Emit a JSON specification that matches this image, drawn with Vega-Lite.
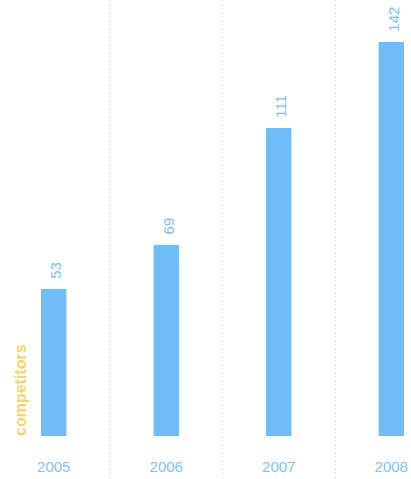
{
  "$schema": "https://vega.github.io/schema/vega-lite/v6.json",
  "width": 411,
  "height": 479,
  "autosize": {"type": "none"},
  "padding": 0,
  "background": "#ffffff",
  "config": {"view": {"stroke": null}, "font": "Liberation Sans"},
  "data": {"values": [
    {"year": "2005", "value": 53},
    {"year": "2006", "value": 69},
    {"year": "2007", "value": 111},
    {"year": "2008", "value": 142}
  ]},
  "encoding": {
    "x": {"field": "year", "type": "nominal",
      "scale": {"range": [-2.5, 447.5], "paddingInner": 0, "paddingOuter": 0},
      "axis": {"title": null, "orient": "bottom", "offset": -43, "domain": false, "ticks": false,
        "labelAngle": 0, "labelPadding": 23, "labelFontSize": 15, "labelColor": "#82c4f0",
        "grid": false}}
  },
  "layer": [
    {"mark": {"type": "rule", "color": "#d4ecef", "strokeDash": [2, 2], "strokeWidth": 1.5},
     "encoding": {"x": {"field": "year", "type": "nominal", "bandPosition": 0}}},
    {"mark": {"type": "bar", "width": 26, "color": "#6fbcf6", "cornerRadiusTopLeft": 2, "cornerRadiusTopRight": 2},
     "encoding": {"y": {"field": "value", "type": "quantitative",
      "scale": {"domain": [0, 157], "range": [436, 0], "nice": false}, "axis": null}}},
    {"mark": {"type": "text", "angle": -90, "align": "left", "baseline": "middle", "dx": 10, "dy": 2.5,
      "fontSize": 15, "color": "#7cc0ee"},
     "encoding": {"y": {"field": "value", "type": "quantitative"},
      "text": {"field": "value", "type": "quantitative"}}},
    {"data": {"values": [{"year": "2005", "value": 0, "note": "competitors"}]},
     "mark": {"type": "text", "angle": -90, "align": "left", "baseline": "middle", "dx": 0, "dy": -33,
      "fontSize": 16, "fontWeight": "bold", "color": "#f6d66c"},
     "encoding": {"y": {"field": "value", "type": "quantitative"},
      "text": {"field": "note"}}}
  ]
}
